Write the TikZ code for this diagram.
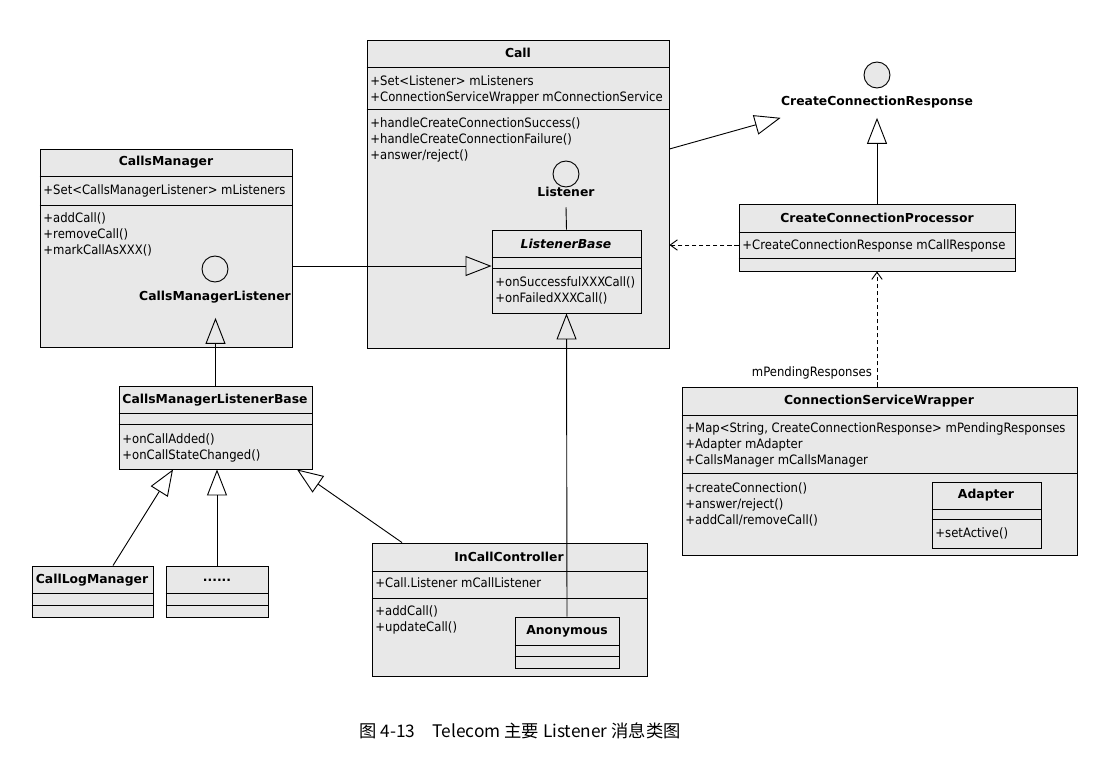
\documentclass[tikz,border=0pt]{standalone}
\usepackage{fontspec}
\setmainfont{DejaVu Sans}[FakeStretch=0.9]
\newfontfamily\headfont{DejaVu Sans}
\newfontfamily\cjkfont{Noto Sans CJK SC}
\usetikzlibrary{arrows.meta,fit}

\begin{document}
\begin{tikzpicture}[x=0.025cm,y=-0.025cm,
box/.style={draw,fill=black!9,inner sep=0pt},
title/.style={font=\headfont\fontsize{8.8}{10}\selectfont\bfseries,inner sep=0pt},
members/.style={font=\fontsize{9.2}{11.4}\selectfont,align=left,anchor=north west,inner sep=0pt},
iface/.style={circle,draw,fill=black!9,minimum size=0.65cm,inner sep=0pt},
realizes/.style={-{Triangle[open,length=0.65cm,width=0.5cm]}},
depends/.style={-{Straight Barb[length=1.8mm,width=2.6mm]},dash pattern=on 3pt off 2pt},
every path/.style={line width=0.65pt}]
\useasboundingbox (0,0) rectangle (1112,757);

% class boxes
\node[box,fit={(40,149) (292,347)}] (callsmgr) {};
\node[box,fit={(367,40) (669,348)}] (call) {};
\node[box,fit={(492,230) (641,313)}] (lbase) {};
\node[box,fit={(739,204) (1015,271)}] (ccp) {};
\node[box,fit={(682,387) (1077,555)}] (csw) {};
\node[box,fit={(932,482) (1041,548)}] (adapter) {};
\node[box,fit={(119,386) (312,469)}] (cmlbase) {};
\node[box,fit={(32,566) (153,617)}] (clm) {};
\node[box,fit={(166,566) (268,617)}] (dots) {};
\node[box,fit={(372,543) (647,676)}] (icc) {};
\node[box,fit={(515,617) (619,668)}] (anon) {};

\foreach \b/\h/\a in {callsmgr/176/205, call/67/109, lbase/257/268, ccp/232/258,
  csw/415/473, adapter/509/519, cmlbase/413/424, clm/593/605, dots/593/605,
  icc/571/598, anon/645/656}{
\draw (\b.west |- 0,\h) -- (\b.east |- 0,\h);
\draw (\b.west |- 0,\a) -- (\b.east |- 0,\a);
}

% interfaces
\node[iface] (lsnr) at (566,174) {};
\node[title] (lsnr-t) at (566,192) {Listener};
\node[iface] (ccr) at (877,75) {};
\node[title] (ccr-t) at (877,102) {CreateConnectionResponse};
\node[iface] (cml) at (215,269) {};
\node[title] (cml-t) at (215,297) {CallsManagerListener};

% titles
\node[title] (callsmgr-t) at (166,162) {CallsManager};
\node[title] (call-t) at (518,53) {Call};
\node[title,font=\headfont\fontsize{8.8}{10}\selectfont\bfseries\itshape] (lbase-t) at (566,244) {ListenerBase};
\node[title] (ccp-t) at (877,218) {CreateConnectionProcessor};
\node[title] (csw-t) at (879,401) {ConnectionServiceWrapper};
\node[title] (adapter-t) at (986,495) {Adapter};
\node[title] (cmlbase-t) at (215,400) {CallsManagerListenerBase};
\node[title] (clm-t) at (92,580) {CallLogManager};
\node[title] (dots-t) at (217,580) {......};
\node[title] (icc-t) at (509,557) {InCallController};
\node[title] (anon-t) at (567,631) {Anonymous};

% attributes and methods
\node[members] (callsmgr-a) at (43,184) {+Set<CallsManagerListener> mListeners};
\node[members] (callsmgr-m) at (43,212) {+addCall()\\+removeCall()\\+markCallAsXXX()};
\node[members] (call-a) at (370,75) {+Set<Listener> mListeners\\+ConnectionServiceWrapper mConnectionService};
\node[members] (call-m) at (370,117) {+handleCreateConnectionSuccess()\\+handleCreateConnectionFailure()\\+answer/reject()};
\node[members] (lbase-m) at (495,276) {+onSuccessfulXXXCall()\\+onFailedXXXCall()};
\node[members] (ccp-a) at (742,239) {+CreateConnectionResponse mCallResponse};
\node[members] (csw-a) at (685,422) {+Map<String, CreateConnectionResponse> mPendingResponses\\+Adapter mAdapter\\+CallsManager mCallsManager};
\node[members] (csw-m) at (685,482) {+createConnection()\\+answer/reject()\\+addCall/removeCall()};
\node[members] (adapter-m) at (935,527) {+setActive()};
\node[members] (cmlbase-m) at (122,433) {+onCallAdded()\\+onCallStateChanged()};
\node[members] (icc-a) at (375,577) {+Call.Listener mCallListener};
\node[members] (icc-m) at (375,605) {+addCall()\\+updateCall()};

% connectors
\coordinate (ccr-tip) at ([yshift=-0.235cm]ccr-t.south west);
\coordinate (cml-tip) at ([yshift=-0.36cm]cml-t.south);
\draw ([yshift=-0.25cm]lsnr-t.south) -- (lbase.north);
\draw[realizes] (callsmgr.east |- 0,266) -- (lbase.west |- 0,266);
\draw[realizes] (anon.north) -- (lbase.south);
\draw[realizes] (call.east |- 0,149) -- (ccr-tip);
\draw[realizes] (ccp.north) -- (ccp.north |- ccr-tip);
\draw[depends] (ccp.west |- 0,245) -- (call.east |- 0,245);
\draw[depends] (ccp.south |- csw.north) -- (ccp.south)
  node[pos=0.12,left,font=\fontsize{9.2}{10}\selectfont] {mPendingResponses};
\draw[realizes] (cmlbase.north) -- (cmlbase.north |- cml-tip);
\foreach \sub/\from/\to in {clm/113/173, dots/217/217, icc/402/297}
\draw[realizes] (\sub.north -| \from,0) -- (cmlbase.south -| \to,0);

\node[font=\cjkfont\fontsize{12.3}{14}\selectfont] (caption) at (520,731) {图 4-13\quad Telecom 主要 Listener 消息类图};
\end{tikzpicture}
\end{document}
